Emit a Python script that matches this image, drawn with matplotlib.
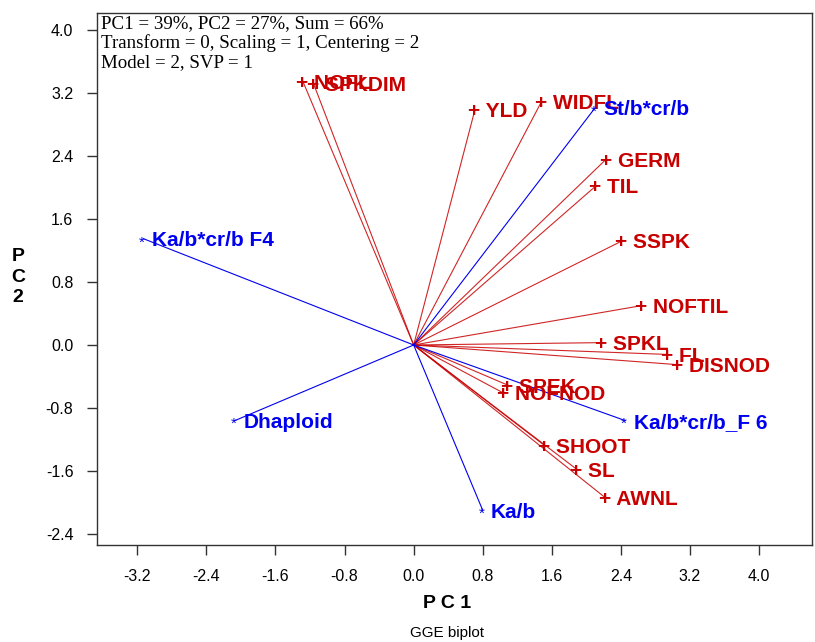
import matplotlib
matplotlib.use("Agg")
import matplotlib.pyplot as plt
import numpy as np

# trait vectors (red, "+")
traits   = ["NOFL", "SPKDIM", "YLD", "WIDFL", "GERM", "TIL", "SSPK", "NOFTIL",
            "SPKL", "FL", "DISNOD", "SPEK", "NOFNOD", "SHOOT", "SL", "AWNL"]
trait_x  = [-1.28, -1.16, 0.71, 1.48, 2.23, 2.11, 2.41, 2.64,
            2.18, 2.94, 3.06, 1.09, 1.04, 1.52, 1.89, 2.22]
trait_y  = [3.34, 3.32, 2.99, 3.09, 2.36, 2.02, 1.32, 0.50,
            0.03, -0.12, -0.25, -0.51, -0.61, -1.28, -1.58, -1.94]

# environment vectors (blue, "*")
envs     = ["St/b*cr/b", "Ka/b*cr/b F4", "Dhaploid", "Ka/b*cr/b_F 6", "Ka/b"]
env_x    = [2.10, -3.13, -2.07, 2.45, 0.80]
env_y    = [3.01, 1.35, -0.96, -0.96, -2.10]

xticks = [-3.2, -2.4, -1.6, -0.8, 0.0, 0.8, 1.6, 2.4, 3.2, 4.0]
yticks = [-2.4, -1.6, -0.8, 0.0, 0.8, 1.6, 2.4, 3.2, 4.0]

info_lines = ["PC1 = 39%, PC2 = 27%, Sum = 66%",
              "Transform = 0, Scaling = 1, Centering = 2",
              "Model = 2, SVP = 1"]

RED  = "#C80000"
BLUE = "#0000F0"

plt.rcParams["font.family"] = ["Liberation Sans", "DejaVu Sans"]

fig = plt.figure(figsize=(8.15, 6.42), dpi=100)
ax = fig.add_axes([97 / 815, 1 - 545 / 642, (812 - 97) / 815, (545 - 13) / 642])
ax.set_xlim(-3.667, 4.613)
ax.set_ylim(-2.54, 4.216)

for name, x, y in zip(traits, trait_x, trait_y):
    ax.plot([0, x], [0, y], color=RED, lw=0.8, alpha=0.85)
    ax.annotate("+ " + name, (x, y), xytext=(-4.8, -5.3), textcoords="offset points",
                ha="left", va="baseline", color=RED, fontsize=15, fontweight="bold")

for name, x, y in zip(envs, env_x, env_y):
    ax.plot([0, x], [0, y], color=BLUE, lw=0.8)
    ax.annotate("*", (x, y), xytext=(-3.2, -5.5), textcoords="offset points",
                ha="left", va="baseline", color=BLUE, fontsize=11)
    ax.annotate(name, (x, y), xytext=(6, -5.3), textcoords="offset points",
                ha="left", va="baseline", color=BLUE, fontsize=15, fontweight="bold")

for i, line in enumerate(info_lines):
    fig.text(101 / 815, 1 - (15 + 19.5 * i) / 642, line, ha="left", va="top",
             fontsize=13.6, family="Liberation Serif")

ax.set_xticks(xticks)
ax.set_yticks(yticks)
ax.set_xticklabels([f"{v:.1f}" for v in xticks])
ax.set_yticklabels([f"{v:.1f}" for v in yticks])
ax.tick_params(direction="out", length=7, width=1, labelsize=11.5, color="#333333", pad=10)
for s in ax.spines.values():
    s.set_color("#333333")
    s.set_linewidth(1)

fig.text(447 / 815, 1 - 603 / 642, "P C 1", ha="center", va="center",
         fontsize=14, fontweight="bold")
fig.text(18 / 815, 1 - 277 / 642, "P\nC\n2", ha="center", va="center",
         fontsize=14, fontweight="bold", linespacing=1.25)
fig.text(447 / 815, 1 - 633 / 642, "GGE biplot", ha="center", va="center", fontsize=11)

fig.savefig("out.png", dpi=100)
